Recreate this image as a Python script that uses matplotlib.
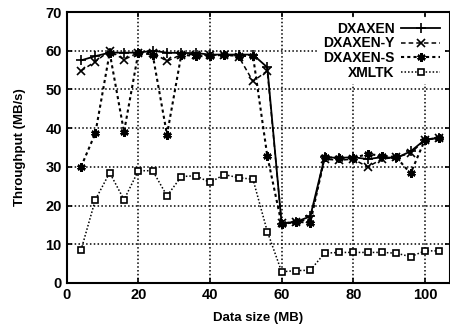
import numpy as np
import matplotlib
matplotlib.use("Agg")
import matplotlib.pyplot as plt

plt.rcParams['font.family'] = ['Liberation Sans', 'DejaVu Sans']
plt.rcParams['font.weight'] = 'bold'

# data sizes (MB)
rozmiar = [4, 8, 12, 16, 20, 24, 28, 32, 36, 40, 44, 48, 52, 56, 60, 64, 68,
           72, 76, 80, 84, 88, 92, 96, 100, 104]

dxaxen = [57.5, 58.6, 59.5, 59.5, 59.5, 60.0, 59.5, 59.4, 59.4, 59.0, 59.0,
          59.0, 59.0, 55.7, 15.3, 15.8, 17.2, 32.5, 32.3, 32.5, 32.0, 32.5,
          32.3, 34.0, 37.0, 37.5]
dxaxen_y = [54.8, 57.2, 60.0, 57.7, 59.5, 59.5, 57.3, 59.0, 59.0, 58.8, 59.0,
            58.5, 52.1, 54.8, 15.5, 15.8, 16.5, 32.0, 31.7, 32.0, 30.0, 32.0,
            32.5, 33.5, 37.0, 37.5]
dxaxen_s = [30.0, 38.7, 59.5, 39.0, 59.5, 59.0, 38.3, 59.0, 58.6, 58.6, 59.0,
            58.6, 58.7, 32.8, 15.2, 15.8, 15.6, 32.5, 32.3, 32.3, 33.3, 32.9,
            32.5, 28.3, 37.0, 37.5]
xmltk = [8.5, 21.5, 28.5, 21.5, 29.0, 29.0, 22.5, 27.5, 27.7, 26.0, 28.0,
         27.2, 26.8, 13.3, 2.9, 3.2, 3.3, 7.7, 7.9, 7.9, 7.9, 7.9, 7.7, 6.8,
         8.3, 8.3]

fig = plt.figure(figsize=(4.5, 3.25), dpi=100)
ax = fig.add_axes([66.7 / 450, 1 - 283 / 325, 1 - 66.7 / 450, (283 - 12) / 325])

ax.plot(rozmiar, dxaxen, color='black', lw=1.3, marker='+', ms=7, mew=1.2,
        label='DXAXEN')
ax.plot(rozmiar, dxaxen_y, color='black', lw=1.1, ls=(0, (3, 2)), marker='x',
        ms=6, mew=1.2, label='DXAXEN-Y')
ax.plot(rozmiar, dxaxen_s, color='black', lw=1.5, ls=(0, (1.5, 1.5)),
        marker=(6, 2, 0), ms=6, mew=1.8, label='DXAXEN-S')
ax.plot(rozmiar, xmltk, color='black', lw=1.1, ls=(0, (1, 1.3)), marker='s',
        ms=5, mew=1.2, mfc='white', label='XMLTK')

ax.set_xlim(0, 107)
ax.set_ylim(0, 70)
ax.set_xticks([0, 20, 40, 60, 80, 100])
ax.set_yticks(range(0, 71, 10))
ax.grid(True, color='black', ls=(0, (1, 1.5)), lw=1.1)
ax.tick_params(direction='in', top=True, right=True, labelsize=10.5, width=1.2)
for s in ax.spines.values():
    s.set_linewidth(1.5)
for t in ax.get_xticklabels() + ax.get_yticklabels():
    t.set_fontweight('bold')

ax.set_xlabel('Data size (MB)', fontsize=9.5, fontweight='bold', labelpad=7)
ax.set_ylabel('Throughput (MB/s)', fontsize=9.5, fontweight='bold', labelpad=14)

leg = ax.legend(loc='upper right', markerfirst=False, frameon=True,
                fancybox=False, framealpha=1, edgecolor='none',
                prop={'weight': 'bold', 'size': 10}, handlelength=2.8,
                labelspacing=0.05, borderpad=0.3, handletextpad=0.5,
                borderaxespad=0.4)
for t in leg.get_texts():
    t.set_ha('right')
leg._legend_box.align = 'right'

fig.savefig('out.png', dpi=100)
